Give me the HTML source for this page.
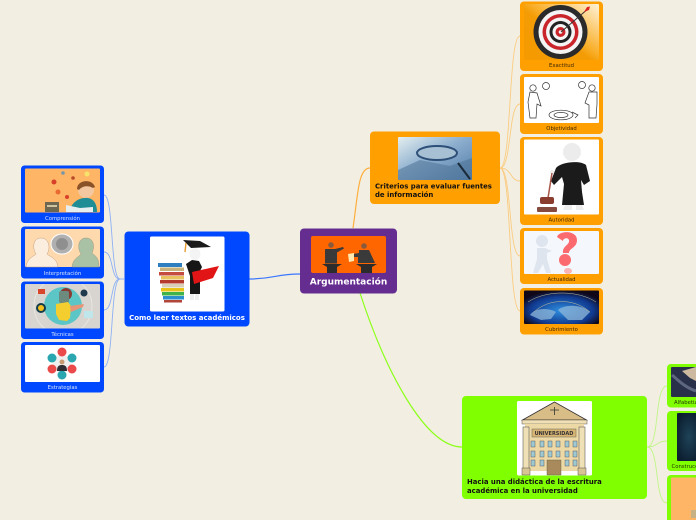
<!DOCTYPE html>
<html><head><meta charset="utf-8"><style>
html,body{margin:0;padding:0;background:#f2efe2;width:696px;height:520px;overflow:hidden}
svg{display:block}
text{font-family:"DejaVu Sans","Liberation Sans",sans-serif}
</style></head><body>
<svg width="696" height="520" viewBox="0 0 696 520" xmlns="http://www.w3.org/2000/svg">
<defs>
<linearGradient id="ex" x1="1" y1="0" x2="0" y2="1"><stop offset="0" stop-color="#fff3d8"/><stop offset=".45" stop-color="#f9b02c"/><stop offset=".55" stop-color="#f49c05"/><stop offset="1" stop-color="#f59a00"/></linearGradient>
<linearGradient id="gl" x1="0" y1="0" x2="1" y2="1"><stop offset="0" stop-color="#e4eff0"/><stop offset=".45" stop-color="#8fb0cf"/><stop offset="1" stop-color="#4f7ba8"/></linearGradient>
<radialGradient id="wd" cx=".5" cy=".6" r=".6"><stop offset="0" stop-color="#2f8fe0"/><stop offset=".7" stop-color="#103a90"/><stop offset="1" stop-color="#100818"/></radialGradient>
<radialGradient id="cn" cx=".5" cy=".5" r=".6"><stop offset="0" stop-color="#1f4358"/><stop offset="1" stop-color="#0b1d2e"/></radialGradient>
<clipPath id="tc"><rect x="25" y="284" width="75" height="44.500"/></clipPath>
</defs>
<rect width="696" height="520" fill="#f2efe2"/>

<!-- connectors -->
<g fill="none">
<path d="M249 279C275 279 275 274 300 274" stroke="#3a76ff" stroke-width="1.200"/>
<path d="M353 228C358 195 358 168 370 168" stroke="#ffae3d" stroke-width="1.200"/>
<path d="M360 293C385 370 425 447 462 447" stroke="#8cff1a" stroke-width="1.200"/>
<g stroke="#8fb0f5" stroke-width=".9">
<path d="M124 279H120C110 279 114 195 104 195"/>
<path d="M124 279H120C110 279 114 252 104 252"/>
<path d="M124 279H120C110 279 114 310 104 310"/>
<path d="M124 279H120C110 279 114 367 104 367"/>
</g>
<g stroke="#fbcb80" stroke-width=".9">
<path d="M500 168C512 168 508 36 520 36"/>
<path d="M500 168C512 168 508 104 520 104"/>
<path d="M500 168C512 168 510 181 520 181"/>
<path d="M500 168C512 168 508 256 520 256"/>
<path d="M500 168C512 168 508 311 520 311"/>
</g>
<g stroke="#c0f587" stroke-width=".9">
<path d="M647 447C660 447 654 386 667 386"/>
<path d="M647 447C658 447 656 441 667 441"/>
<path d="M647 447C660 447 654 503 667 503"/>
</g>
</g>

<!-- Central -->
<rect x="300" y="228.500" width="97" height="65" rx="4" fill="#662d91"/>
<rect x="311" y="236" width="75" height="37" rx="2" fill="#ff6600"/>
<g fill="#3a3a3a">
<circle cx="331" cy="245" r="2.800" fill="#8a5a3c"/><path d="M325 249h10l8-2 1 1.500-7 4v11h-12z"/>
<path d="M322 264h20l-5 3v6h-10v-6z" fill="#2c2c2c"/>
<circle cx="364" cy="246" r="2.800" fill="#8a5a3c"/><path d="M359 250h10l6 13h-17l0-6-5 0v-3l6-1z"/>
<path d="M356 264h21l-5 3v6h-11v-6z" fill="#2c2c2c"/>
</g>
<path d="M348 254l6-1v8l-5 1z" fill="#ffe9b0"/>
<text x="348.500" y="284.500" font-size="9" font-weight="700" fill="#fff" text-anchor="middle">Argumentación</text>

<!-- Criterios -->
<rect x="370" y="131.500" width="130" height="72.500" rx="4" fill="#ff9f00"/>
<rect x="398" y="137" width="74" height="43" rx="1" fill="url(#gl)"/>
<path d="M398 170l22-10 30 6 22-8v22h-74z" fill="#4e7296" opacity=".55"/>
<ellipse cx="437" cy="153" rx="20" ry="7" fill="#a7c0d4" stroke="#2d4f78" stroke-width="2"/>
<path d="M458 163l12 16" stroke="#1b2b3a" stroke-width="2"/>
<text font-size="6.900" font-weight="700" fill="#111"><tspan x="375" y="188.500">Criterios para evaluar fuentes</tspan><tspan x="375" y="197">de información</tspan></text>

<!-- Como leer -->
<rect x="124.500" y="231.500" width="125" height="95" rx="4" fill="#0048ff"/>
<rect x="150" y="236.500" width="74.500" height="75" rx="1.500" fill="#fff"/>
<g>
<rect x="158" y="263" width="24" height="4" fill="#2f7fc0"/>
<rect x="160" y="267.500" width="24" height="3.500" fill="#c9b37d"/>
<rect x="159" y="272" width="25" height="3.500" fill="#c64b3f"/>
<rect x="161" y="276" width="23" height="3.500" fill="#e8c25f"/>
<rect x="160" y="280" width="24" height="3.500" fill="#b53b2f"/>
<rect x="162" y="284" width="22" height="3.500" fill="#d8d0b8"/>
<rect x="161" y="288" width="23" height="3.500" fill="#e9c318"/>
<rect x="162" y="292" width="22" height="3.500" fill="#3db34a"/>
<rect x="163" y="296" width="21" height="3.500" fill="#2b8fd0"/>
<rect x="164" y="300" width="18" height="2.500" fill="#b04538"/>
<path d="M183 240l17 1 11 6-20 1z" fill="#1a1a1a"/>
<path d="M186 243l-1 9" stroke="#e89a30" stroke-width="1.400"/>
<ellipse cx="195" cy="254" rx="5.500" ry="6" fill="#f4f4f4"/>
<path d="M186 264l6-4 7 1 3 6-2 4 0 23-10 0 0-18z" fill="#161616"/>
<path d="M192 272l27-6-6 12-19 6z" fill="#e11515"/>
<path d="M190 294l4 0 0 6-4 0zM195 294l4 0 0 6-4 0z" fill="#eee"/>
</g>
<text x="187" y="320" font-size="7" font-weight="700" fill="#fff" text-anchor="middle">Como leer textos académicos</text>

<!-- Left children -->
<rect x="21" y="165.500" width="83" height="57.500" rx="3.500" fill="#0048ff"/>
<rect x="25" y="168.500" width="75" height="44" rx="1" fill="#ffb566"/>
<rect x="45" y="202" width="14" height="10" fill="#6d6650"/>
<rect x="47" y="205" width="10" height="2" fill="#cfc4a0"/>
<circle cx="86" cy="190" r="8" fill="#f3c7a0"/>
<path d="M77 189c0-9 15-11 18-2l-2 1c-5-3-11-2-14 2z" fill="#8a5327"/>
<path d="M70 212c0-8 8-15 18-14 6 1 9 6 9 14z" fill="#1f8d96"/>
<path d="M66 205l14 3 13-1 0 5h-27z" fill="#e7eef0"/>
<circle cx="87" cy="174" r="2.500" fill="#f6e36a"/><circle cx="54" cy="182" r="2.500" fill="#d8402a"/><circle cx="63" cy="173" r="1.800" fill="#7895a5"/><circle cx="58" cy="192" r="2.500" fill="#e86a30"/><circle cx="67" cy="197" r="2" fill="#d8402a"/><circle cx="73" cy="178" r="1.800" fill="#b84a2a"/>
<text x="62.500" y="220" font-size="5.300" fill="#d6e3ff" text-anchor="middle">Comprensión</text>

<rect x="21" y="226.500" width="83" height="52" rx="3.500" fill="#0048ff"/>
<rect x="25" y="229" width="75" height="38" rx="1" fill="#ffd9ae"/>
<path d="M26 267c1-9 7-10 10-13-4-6-3-16 5-16s10 10 6 16c3 3 10 4 11 13z" fill="#fbeede" stroke="#c69f7c" stroke-width=".5"/>
<path d="M72 267c1-9 7-10 9-13-4-6-3-16 5-16s9 9 6 15c3 3 7 4 7 14z" fill="#a9c2a6" stroke="#9b9a80" stroke-width=".5"/>
<ellipse cx="62" cy="244" rx="11" ry="10" fill="#b0b0b0" stroke="#fff" stroke-width="1"/>
<ellipse cx="62" cy="244" rx="6" ry="6" fill="#8f8f8f"/>
<text x="62.500" y="275" font-size="5.300" fill="#d6e3ff" text-anchor="middle">Interpretación</text>

<rect x="21" y="281.500" width="83" height="57.500" rx="3.500" fill="#0048ff"/>
<rect x="25" y="284" width="75" height="44.500" rx="1" fill="#d8d4d0"/>
<g clip-path="url(#tc)">
<circle cx="63" cy="306" r="29" fill="none" stroke="#e9e6e2" stroke-width="1"/>
<circle cx="63" cy="306" r="19" fill="#5cc6c6"/>
<circle cx="66" cy="294" r="6" fill="#8a3a30"/>
<rect x="59" y="291" width="10" height="12" rx="2" fill="#6c8a7e"/>
<path d="M56 304l12-2 3 4-1 12-3 3-8-1-3-6z" fill="#f4cd2e"/>
<path d="M70 306l14-2-1 3-12 5z" fill="#e89577"/>
<rect x="38" y="289" width="7" height="5" fill="#d8452a"/>
<circle cx="41" cy="308" r="5" fill="#123c4c"/><circle cx="41" cy="308" r="3" fill="#f4c020"/>
<circle cx="84" cy="293" r="3.500" fill="#1f3a4c"/>
<rect x="84" y="311" width="9" height="7" fill="#bfe6ea"/>
</g>
<text x="62.500" y="336" font-size="5.300" fill="#d6e3ff" text-anchor="middle">Técnicas</text>

<rect x="21" y="342" width="83" height="50.500" rx="3.500" fill="#0048ff"/>
<rect x="25" y="345" width="75" height="37" rx="1" fill="#fff"/>
<circle cx="62" cy="364" r="9" fill="#eee"/>
<g>
<circle cx="62" cy="352" r="4.500" fill="#ea4a4a"/>
<circle cx="72" cy="358" r="4.500" fill="#2aa6b0"/>
<circle cx="72" cy="369" r="4.500" fill="#ea4a4a"/>
<circle cx="62" cy="375" r="4.500" fill="#2aa6b0"/>
<circle cx="52" cy="369" r="4.500" fill="#ea4a4a"/>
<circle cx="52" cy="358" r="4.500" fill="#2aa6b0"/>
</g>
<circle cx="62" cy="362" r="2.500" fill="#c79a72"/><path d="M57 371c0-5 2-6 5-6s5 1 5 6z" fill="#2d2d33"/>
<text x="62.500" y="389" font-size="5.300" fill="#d6e3ff" text-anchor="middle">Estrategias</text>

<!-- Right children -->
<rect x="520" y="1.500" width="83" height="69.500" rx="4" fill="#ff9f00"/>
<rect x="524" y="4" width="75" height="56" rx="1" fill="url(#ex)"/>
<circle cx="560.500" cy="32" r="27" fill="#2a2a2a"/>
<circle cx="560.500" cy="32" r="22" fill="#f4f4f4"/>
<circle cx="560.500" cy="32" r="18" fill="#c8242a"/>
<circle cx="560.500" cy="32" r="14.500" fill="#f4f4f4"/>
<circle cx="560.500" cy="32" r="11" fill="#222"/>
<circle cx="560.500" cy="32" r="8" fill="#f4f4f4"/>
<circle cx="560.500" cy="32" r="5" fill="#c8242a"/>
<circle cx="560.500" cy="32" r="1.800" fill="#f4f4f4"/>
<path d="M561 32l28-24" stroke="#333" stroke-width="1"/>
<path d="M584 12l3-5 3-.5-1 3.500z" fill="#d22"/>
<text x="561.500" y="67" font-size="5.300" fill="#3a2600" text-anchor="middle">Exactitud</text>

<rect x="520" y="74" width="83" height="60" rx="4" fill="#ff9f00"/>
<rect x="524" y="77" width="75" height="46" rx="1" fill="#fff"/>
<g fill="none" stroke="#333" stroke-width=".7">
<circle cx="533" cy="88" r="3.200"/><path d="M530 92l-2 10 2 16h6l1-14 4 2-4-13z"/>
<circle cx="592" cy="88" r="3.200"/><path d="M589 92l-4 11 4 2 0 13h7l1-14 0-12z"/>
<circle cx="546" cy="86" r="3.500"/><circle cx="582" cy="85" r="3.500"/>
<ellipse cx="561" cy="115" rx="12" ry="4.800"/><ellipse cx="561" cy="115" rx="7" ry="2.600"/><path d="M572 112l6 3-3 3"/>
</g>
<text x="561.500" y="130" font-size="5.300" fill="#3a2600" text-anchor="middle">Objetividad</text>

<rect x="520" y="137" width="83" height="88" rx="4" fill="#ff9f00"/>
<rect x="524" y="139.500" width="75" height="75" rx="1" fill="#fff"/>
<circle cx="572" cy="152" r="9" fill="#ececec"/>
<path d="M556 168c5-6 24-8 30-3l4 16-6 4-3-5 1 12 2 13h-22l2-21-2-7-8 8-3-4z" fill="#1b1b1b"/>
<path d="M565 205h7v5h-9zM576 205h6l2 5h-8z" fill="#eee"/>
<circle cx="552" cy="172" r="2" fill="#ececec"/>
<path d="M552 173l-4 25" stroke="#a8554a" stroke-width="1.500"/>
<rect x="540" y="197" width="14" height="7" rx="2" fill="#8a3d2e"/>
<rect x="537" y="207" width="20" height="5" rx="1" fill="#874a3e"/>
<text x="561.500" y="221.500" font-size="5.300" fill="#3a2600" text-anchor="middle">Autoridad</text>

<rect x="520" y="228" width="83" height="56" rx="4" fill="#ff9f00"/>
<rect x="524" y="231" width="75" height="43" rx="1" fill="#f4f8fc"/>
<circle cx="542" cy="241" r="6" fill="#dfe5ee"/>
<path d="M537 248l8 0 7 3-5 2 0 6 4 14h-5l-3-9-5 9h-5l4-14z" fill="#dfe5ee"/>
<path d="M557 237c2-7 20-7 20 3 0 8-8 8-8 13h-6c-1-7 7-8 6-13-1-3-6-2-6 1z" fill="#fb6a6e"/>
<circle cx="565" cy="260" r="6" fill="#fb6a6e"/>
<ellipse cx="568" cy="271" rx="4" ry="3" fill="#f9b4b5"/>
<text x="561.500" y="281" font-size="5.300" fill="#3a2600" text-anchor="middle">Actualidad</text>

<rect x="520" y="288" width="83" height="46.500" rx="4" fill="#ff9f00"/>
<rect x="524" y="290.500" width="75" height="33.500" rx="1" fill="url(#wd)"/>
<path d="M530 315c5-8 20-7 26-3l-5 7-10 1zM558 310c6-6 24-6 32 2l-8 8-14 0z" fill="#8fb7d8" opacity=".75"/>
<path d="M528 302c18-12 50-12 68 0M534 312c15-14 40-14 56 0" fill="none" stroke="#c9bf95" stroke-width=".5"/>
<text x="561.500" y="331" font-size="5.300" fill="#3a2600" text-anchor="middle">Cubrimiento</text>

<!-- Hacia -->
<rect x="462" y="396" width="185" height="103" rx="4" fill="#80ff00"/>
<rect x="517" y="401" width="75" height="74.500" rx="1.500" fill="#fff"/>
<path d="M554.500 402l32 18h-64z" fill="#d9bd87" stroke="#333" stroke-width=".8"/>
<rect x="522" y="420" width="65" height="4" fill="#efe0b6" stroke="#333" stroke-width=".4"/>
<rect x="525" y="424" width="59" height="47" fill="#ecd9a6"/>
<rect x="523" y="427" width="6" height="42" fill="#efe0b6" stroke="#444" stroke-width=".5"/>
<rect x="579" y="427" width="6" height="42" fill="#efe0b6" stroke="#444" stroke-width=".5"/>
<rect x="532" y="429" width="44" height="8" fill="#d7b473" stroke="#665" stroke-width=".5"/>
<text x="554" y="435" font-size="5" font-weight="700" fill="#333" text-anchor="middle">UNIVERSIDAD</text>
<g fill="#9fc9d0" stroke="#445" stroke-width=".4">
<rect x="531" y="441" width="4" height="6"/><rect x="540" y="441" width="4" height="6"/><rect x="548" y="441" width="4" height="6"/><rect x="556" y="441" width="4" height="6"/><rect x="565" y="441" width="4" height="6"/><rect x="573" y="441" width="4" height="6"/>
<rect x="531" y="451" width="4" height="6"/><rect x="540" y="451" width="4" height="6"/><rect x="548" y="451" width="4" height="6"/><rect x="556" y="451" width="4" height="6"/><rect x="565" y="451" width="4" height="6"/><rect x="573" y="451" width="4" height="6"/>
<rect x="531" y="460" width="4" height="6"/><rect x="540" y="460" width="4" height="6"/><rect x="565" y="460" width="4" height="6"/><rect x="573" y="460" width="4" height="6"/>
</g>
<rect x="547" y="460" width="14" height="15" fill="#a98a5c" stroke="#554" stroke-width=".4"/>
<rect x="522" y="468" width="8" height="7" fill="#d9c593" stroke="#333" stroke-width=".4"/>
<rect x="578" y="468" width="8" height="7" fill="#d9c593" stroke="#333" stroke-width=".4"/>
<path d="M554.500 407v8M550 410h9" stroke="#333" stroke-width=".8"/>
<text font-size="6.900" font-weight="700" fill="#111"><tspan x="467" y="484">Hacia una didáctica de la escritura</tspan><tspan x="467" y="493">académica en la universidad</tspan></text>

<!-- Green children -->
<rect x="667" y="364" width="40" height="43.500" rx="4" fill="#80ff00"/>
<rect x="671" y="367" width="30" height="30" rx="1" fill="#28304a"/>
<path d="M682 371l14-4v14l-6-3z" fill="#ccb9a0"/>
<path d="M672 375c5 4 12 12 24 16" stroke="#5e6780" stroke-width="3" fill="none"/>
<text x="674" y="404" font-size="5.300" fill="#223300">Alfabetización</text>
<rect x="667" y="411" width="40" height="60" rx="4" fill="#80ff00"/>
<rect x="677" y="413" width="24" height="48" rx="1" fill="url(#cn)"/>
<text x="671.500" y="468" font-size="5.300" fill="#223300">Construcción</text>
<rect x="667" y="475" width="40" height="50" rx="4" fill="#80ff00"/>
<rect x="671" y="477.500" width="30" height="45" rx="1" fill="#ffb566"/>
<rect x="691" y="510" width="6" height="8" fill="#c6b284"/>
</svg>
</body></html>
